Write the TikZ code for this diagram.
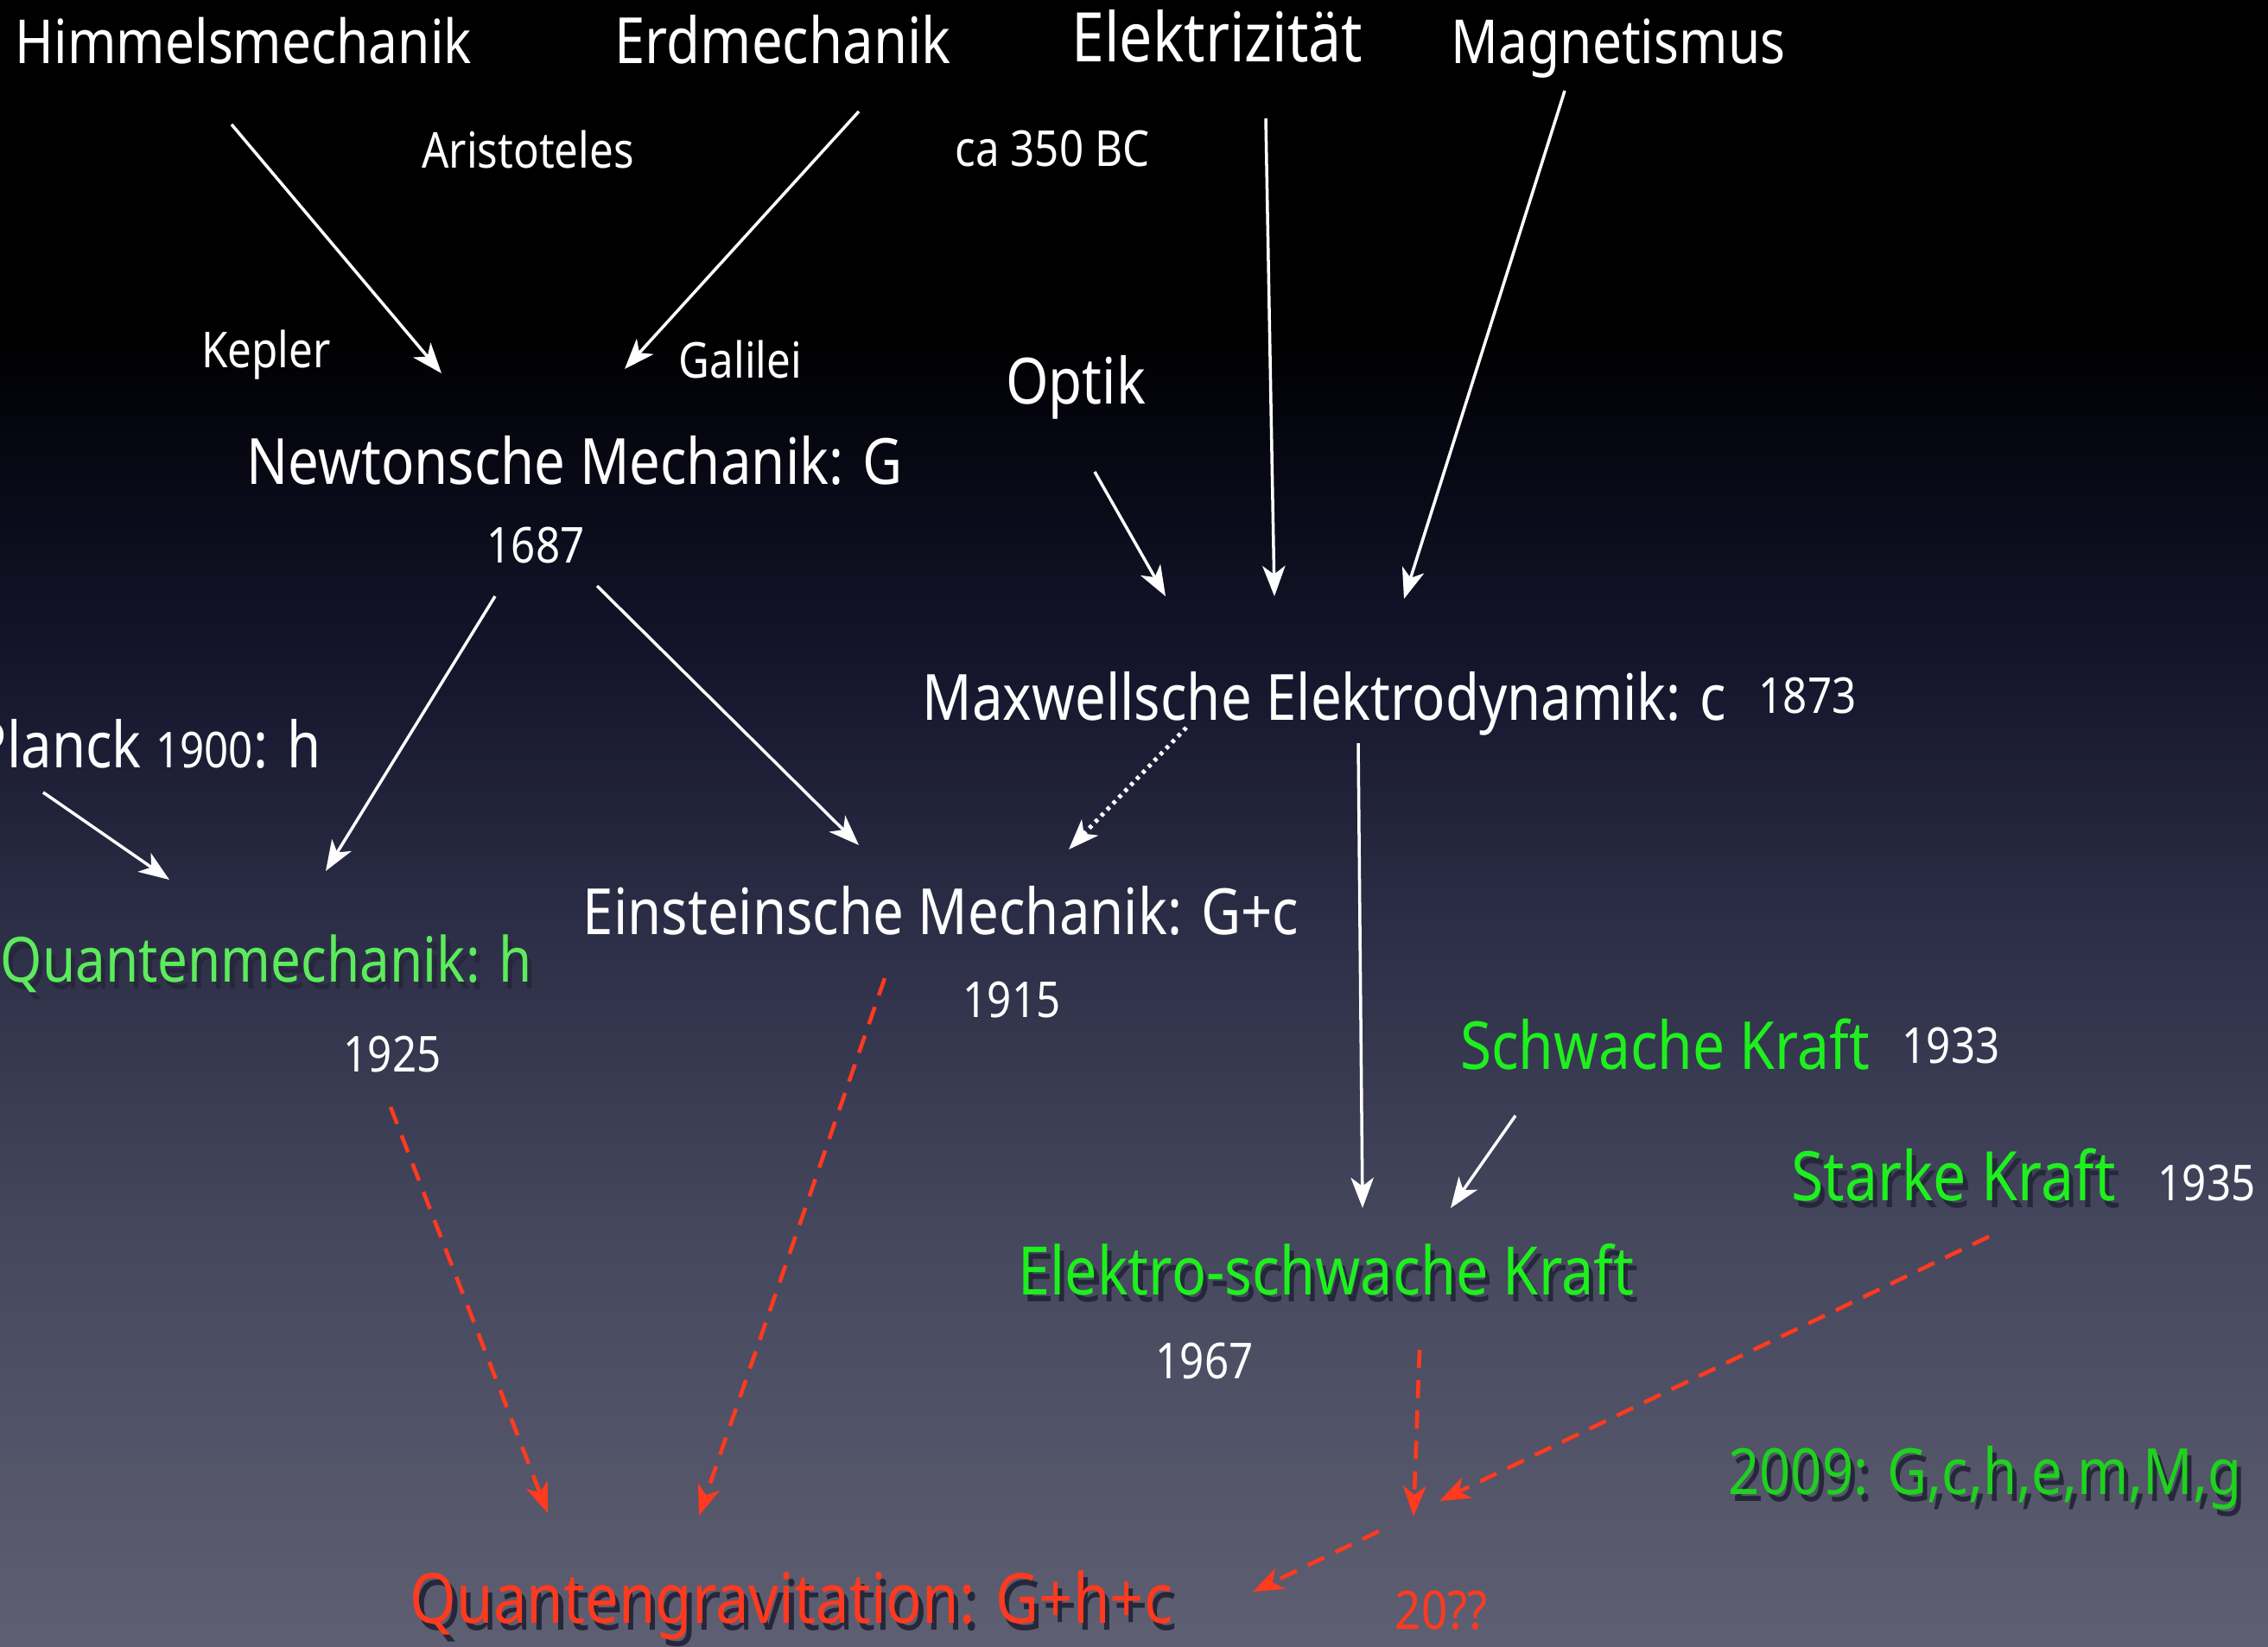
\documentclass[tikz,border=0pt]{standalone}
\usepackage{fontspec}
\setmainfont{Noto Sans}[FakeStretch=0.86]
\usepackage{tikz}
\usetikzlibrary{arrows.meta, calc}

\definecolor{BgBottom}{HTML}{5E5F72}
\definecolor{BgLow}{HTML}{45475D}
\definecolor{BgMid}{HTML}{2D2F48}
\definecolor{BgHigh}{HTML}{14152B}
\definecolor{BgTop}{HTML}{05060F}
\definecolor{LeafGreen}{HTML}{5CEB5C}
\definecolor{ForceGreen}{HTML}{1EF01E}
\definecolor{DarkGreen}{HTML}{1ED21E}
\definecolor{QRed}{HTML}{FF3A1E}
\definecolor{Shadow}{HTML}{26273A}

\pgfdeclareverticalshading{slidebg}{100bp}{color(0bp)=(BgBottom); color(25bp)=(BgBottom);
  color(37.5bp)=(BgLow); color(46.5bp)=(BgMid); color(55bp)=(BgHigh);
  color(62bp)=(BgTop); color(65bp)=(black); color(100bp)=(black)}

% text with a hard drop shadow
\newcommand{\shtext}[1]{\rlap{\raisebox{-2.5pt}{\hspace{1.5pt}\color{Shadow}#1}}#1}
\newcommand{\bigsize}[1]{\fontsize{#1}{#1}\selectfont}

\begin{document}
\begin{tikzpicture}[
  big/.style={font=\bigsize{21}, text=white, inner sep=0pt,
              text height=16pt, text depth=0pt},
  small/.style={font=\bigsize{16.3}, text=white, inner sep=0pt,
                text height=11.5pt, text depth=0pt},
  arr/.style={-{Stealth[length=10pt, width=7.5pt, inset=2.8pt]}, line width=1pt, white},
  dotarr/.style={arr, dash pattern=on 1.2pt off 1.6pt, line width=1.4pt},
  qarr/.style={-{Stealth[length=10pt, width=7.5pt, inset=2.8pt]}, line width=1.3pt,
               QRed, dash pattern=on 6pt off 4pt}
]

%% ---- Background ----
\shade[shading=slidebg] (0,0) rectangle (26.25,-19.05);
\useasboundingbox (0,0) rectangle (26.25,-19.05);

%% ---- Top row: old fields ----
\node[big, font=\bigsize{20}] (himmel) at (2.82,-0.45) {Himmelsmechanik};
\node[big] (erd)    at (9.06,-0.45) {Erdmechanik};
\node[big, font=\bigsize{22.5}] (elek) at (14.09,-0.43) {Elektrizität};
\node[big, font=\bigsize{20}] (magnet) at (18.73,-0.45) {Magnetismus};

\node[small] (aristo) at (6.11,-1.74) {Aristoteles};
\node[small] (ca350)  at (12.18,-1.72) {ca 350 BC};
\node[small] (kepler) at (3.08,-4.05) {Kepler};
\node[small] (galilei) at (8.57,-4.17) {Galilei};
\node[big]   (optik)  at (12.45,-4.39) {Optik};

%% ---- Classical theories ----
\node[big]   (newton)  at (6.65,-5.32) {Newtonsche Mechanik: G};
\node[small] (y1687)   at (6.20,-6.31) {1687};
\node[big]   (maxwell) at (15.33,-8.05) {Maxwellsche Elektrodynamik: c};
\node[small] (y1873)   at (20.92,-8.05) {1873};

%% ---- Modern theories ----
\node[big, anchor=east] (planck) at (3.72,-8.60)
  {Planck {\bigsize{16.3}1900}: h};
\node[big, text=LeafGreen, font=\bigsize{20.5}] (qm) at (3.08,-11.08) {\shtext{Quantenmechanik: h}};
\node[small] (y1925)    at (4.54,-12.20) {1925};
\node[big]   (einstein) at (10.89,-10.53) {Einsteinsche Mechanik: G+c};
\node[small] (y1915)    at (11.71,-11.57) {1915};

\node[big, text=ForceGreen, font=\bigsize{21.8}] (schwach) at (19.27,-12.09) {Schwache Kraft};
\node[small] (y1933) at (22.58,-12.10) {1933};
\node[big, text=ForceGreen, font=\bigsize{22.5}] (starke) at (22.61,-13.61) {\shtext{Starke Kraft}};
\node[small] (y1935) at (25.54,-13.69) {1935};
\node[big, text=ForceGreen, font=\bigsize{22}] (ews) at (15.35,-14.70) {\shtext{Elektro-schwache Kraft}};
\node[small] (y1967) at (13.94,-15.75) {1967};
\node[big, text=DarkGreen, anchor=east] (y2009) at (25.95,-17.01) {\shtext{2009: G,c,h,e,m,M,g}};

%% ---- Goal ----
\node[big, text=QRed, font=\bigsize{22.8}] (qg) at (9.16,-18.50) {\shtext{Quantengravitation: G+h+c}};
\node[small, text=QRed, font=\bigsize{17.5}] (y20) at (16.68,-18.65) {20??};

%% ---- Arrows ----
\draw[arr] ($(himmel)+(-0.14,-0.99)$) -- ($(newton)+(-1.54,1.00)$);
\draw[arr] ($(erd)+(0.88,-0.84)$) -- ($(newton)+(0.58,1.05)$);
\draw[arr] ($(elek)+(0.56,-0.94)$) -- ($(maxwell)+(-0.58,1.15)$);
\draw[arr] ($(magnet)+(-0.62,-0.60)$) -- ($(maxwell)+(0.92,1.12)$);
\draw[arr] ($(optik)+(0.22,-1.07)$) -- ($(maxwell)+(-1.84,1.15)$);
\draw[arr] ($(newton)+(-0.92,-1.58)$) -- ($(qm)+(0.69,1.00)$);
\draw[arr] ($(newton)+(0.26,-1.46)$) -- ($(einstein)+(-0.95,0.75)$);
\draw[arr] ($(planck.east)+(-3.22,-0.57)$) -- ($(qm)+(-1.12,0.90)$);
\draw[dotarr] ($(maxwell)+(-1.60,-0.37)$) -- ($(einstein)+(1.48,0.70)$);
\draw[arr] ($(maxwell)+(0.39,-0.55)$) -- ($(ews)+(0.42,0.72)$);
\draw[arr] ($(schwach)+(-1.73,-0.82)$) -- ($(ews)+(1.44,0.72)$);

%% red dashed: towards quantum gravity
\draw[qarr] ($(y1925)+(-0.02,-0.61)$) -- ($(qg)+(-2.82,0.99)$);
\draw[qarr] ($(einstein)+(-0.65,-0.79)$) -- ($(qg)+(-1.07,0.96)$);
\draw[qarr] ($(ews)+(1.08,-0.92)$) -- ($(y20)+(-0.32,1.10)$);
\draw[qarr] ($(starke)+(0.41,-0.70)$) -- ($(y20)+(-0.02,1.28)$);
\draw[qarr] ($(y20)+(-0.72,0.93)$) -- ($(qg)+(5.34,0.08)$);

\end{tikzpicture}
\end{document}
